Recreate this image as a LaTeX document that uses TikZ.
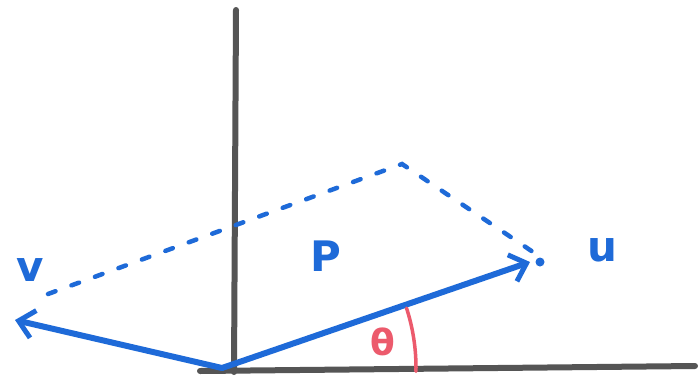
\documentclass[tikz,border=0pt]{standalone}
\usepackage{fontspec}
\setmainfont{DejaVu Sans}
\usetikzlibrary{arrows.meta}
\definecolor{pen}{HTML}{1E6AD8}
\definecolor{axisgray}{HTML}{555555}
\definecolor{redpen}{HTML}{EC5A6C}
\tikzset{
  axisline/.style={draw=axisgray, line width=6pt, line cap=round},
  vecline/.style={draw=pen, line width=6pt, line cap=round, -{Straight Barb[length=15pt,width=28pt,line width=5pt]}},
  dashline/.style={draw=pen, line width=4.5pt, dash pattern=on 8pt off 17pt, line cap=round},
  penlabel/.style={text=pen, font=\bfseries\fontsize{42}{42}\selectfont},
  anglearc/.style={draw=redpen, line width=3.5pt, line cap=round}
}
\begin{document}
\begin{tikzpicture}[x=1pt,y=-1pt]
\useasboundingbox (0,0) rectangle (699,384);
\fill[white] (0,0) rectangle (699,384);
\coordinate (O) at (222,368);
\coordinate (Ytop) at (236,10);
\coordinate (Ybot) at (234,372);
\coordinate (Xl) at (200,371);
\coordinate (Xr) at (695,366);
\coordinate (U) at (530,262);
\coordinate (V) at (15,320);
\coordinate (Ud) at (536,254);
\coordinate (Vd) at (48,294);
\coordinate (T) at (402,164);
\draw[axisline] (Ybot) -- (Ytop);
\draw[axisline] (Xl) -- (Xr);
\draw[vecline] (O) -- (U);
\draw[vecline] (O) -- (V);
\draw[dashline] (Vd) -- (T) -- (Ud);
\fill[pen] (540,262) circle (4.5pt);
\draw[anglearc] (O) ++(-18:194) arc[start angle=-18, end angle=1, radius=194];
\node[penlabel] (p) at (326,256) {P};
\node[penlabel] (u) at (602,250) {u};
\node[penlabel] (v) at (30,270) {v};
\node[text=redpen, font=\bfseries\fontsize{36}{36}\selectfont] (th) at (383,342) {θ};
\end{tikzpicture}
\end{document}
